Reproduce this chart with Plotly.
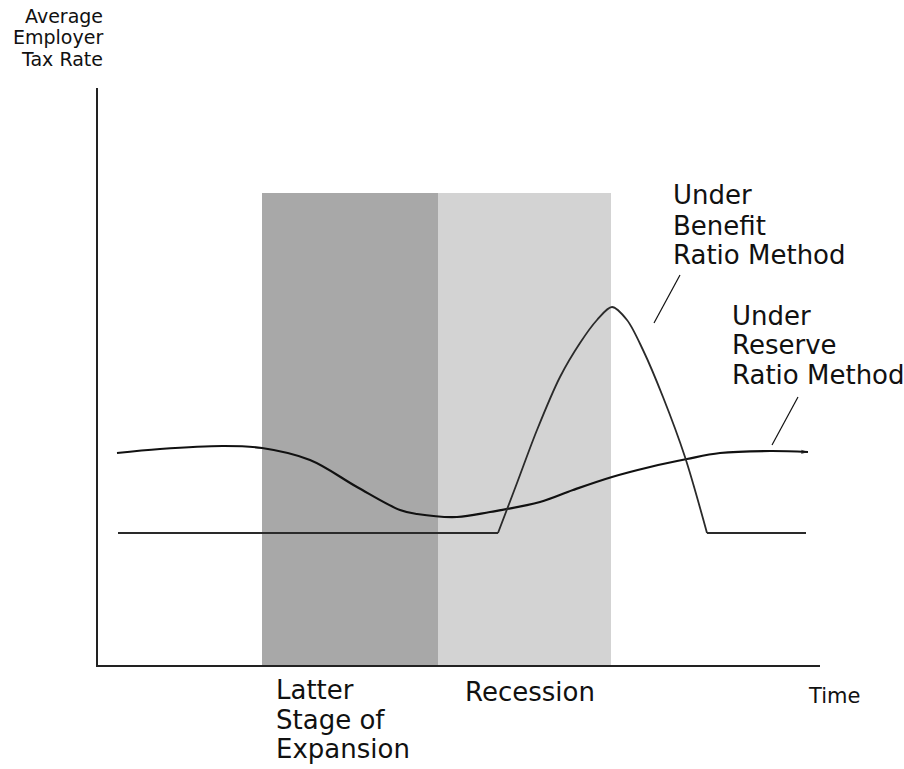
import plotly.graph_objects as go

# ---- Data (time units along the horizontal axis, tax-rate units vertically) ----
reserve_t = [19, 62, 125, 164, 212, 259, 302, 319, 359, 392, 442, 475, 514, 552, 589, 622, 672, 710]
reserve_rate = [212, 216, 219, 217, 205, 178, 155, 151, 148, 153, 163, 175, 188, 198, 206, 212, 214, 213]

benefit_t = [20, 400, 419, 439, 462, 482, 499, 514, 529, 545, 565, 587, 609, 708]
benefit_rate = [132, 132, 182, 235, 288, 322, 345, 358, 345, 315, 268, 208, 132, 132]

phase_names = ["Latter Stage of Expansion", "Recession"]
phase_start = [164, 340]
phase_end = [340, 513]
phase_top = 472
phase_colors = ["#a8a8a8", "#d3d3d3"]

X_RANGE = [0, 722]
Y_RANGE = [0, 577]

W, H = 904, 769
ML, MR, MT, MB = 98, 84, 88, 104
PW, PH = W - ML - MR, H - MT - MB


def px2paper(px, py):
    return (px - ML) / PW, (H - MB - py) / PH


FONT = "DejaVu Sans"
TXT = "#111111"

fig = go.Figure()

# Shaded phases
for s, e, c in zip(phase_start, phase_end, phase_colors):
    fig.add_shape(type="rect", xref="x", yref="y", x0=s, x1=e, y0=0, y1=phase_top,
                  fillcolor=c, line=dict(width=0), layer="below")

fig.add_trace(go.Scatter(
    x=reserve_t, y=reserve_rate, mode="lines+markers",
    line=dict(color="#111111", width=2.2, shape="spline", smoothing=1),
    marker=dict(symbol="arrow", angleref="previous", size=[0] * (len(reserve_t) - 1) + [7], color="#111111",
                line=dict(width=0)),
    hoverinfo="skip", showlegend=False, name="Under Reserve Ratio Method"))

# Benefit ratio: flat stretches drawn straight, the surge drawn as a smooth arch
flat_x = benefit_t[:2] + [None] + benefit_t[-2:]
flat_y = benefit_rate[:2] + [None] + benefit_rate[-2:]
fig.add_trace(go.Scatter(
    x=flat_x, y=flat_y, mode="lines", line=dict(color="#2a2a2a", width=1.8), connectgaps=False,
    hoverinfo="skip", showlegend=False, name="Under Benefit Ratio Method"))
fig.add_trace(go.Scatter(
    x=benefit_t[1:-1], y=benefit_rate[1:-1], mode="lines",
    line=dict(color="#2a2a2a", width=1.8, shape="spline", smoothing=0.9),
    hoverinfo="skip", showlegend=False, name="Under Benefit Ratio Method"))

# Leader lines
fig.add_shape(type="line", xref="x", yref="y", x0=582, y0=390, x1=556, y1=342, line=dict(color="#111111", width=1.2))
fig.add_shape(type="line", xref="x", yref="y", x0=700, y0=268, x1=674, y1=220, line=dict(color="#111111", width=1.2))


def label(text, px, py, size, xanchor="left"):
    x, y = px2paper(px, py)
    fig.add_annotation(text=text, x=x, y=y, xref="paper", yref="paper", xanchor=xanchor, yanchor="middle",
                       showarrow=False, borderpad=0, font=dict(family=FONT, size=size, color=TXT))


# Y-axis title
for t, py in zip(["Average", "Employer", "Tax Rate"], [16, 37, 59]):
    label(t, 104, py, 19, xanchor="right")

# Curve labels
for t, py in zip(["Under", "Benefit", "Ratio Method"], [195, 226, 255]):
    label(t, 672, py, 26)
for t, py in zip(["Under", "Reserve", "Ratio Method"], [316, 345, 375]):
    label(t, 731, py, 26)

# Phase labels
for t, py in zip(["Latter", "Stage of", "Expansion"], [690, 720, 749]):
    label(t, 275, py, 26)
label("Recession", 464, 692, 26)
label("Time", 807, 696, 21)

fig.update_layout(
    width=W, height=H, margin=dict(l=ML, r=MR, t=MT, b=MB, pad=0),
    plot_bgcolor="white", paper_bgcolor="white",
    xaxis=dict(range=X_RANGE, showline=True, linecolor="#222222", linewidth=1.5, showgrid=False, zeroline=False,
               showticklabels=False, ticks="", fixedrange=True),
    yaxis=dict(range=Y_RANGE, showline=True, linecolor="#222222", linewidth=1.5, showgrid=False, zeroline=False,
               showticklabels=False, ticks="", fixedrange=True),
    hovermode=False,
)

fig.write_html("out.html", config={"displayModeBar": False},
               post_script="document.body.style.margin='0';document.body.style.overflow='hidden';")
